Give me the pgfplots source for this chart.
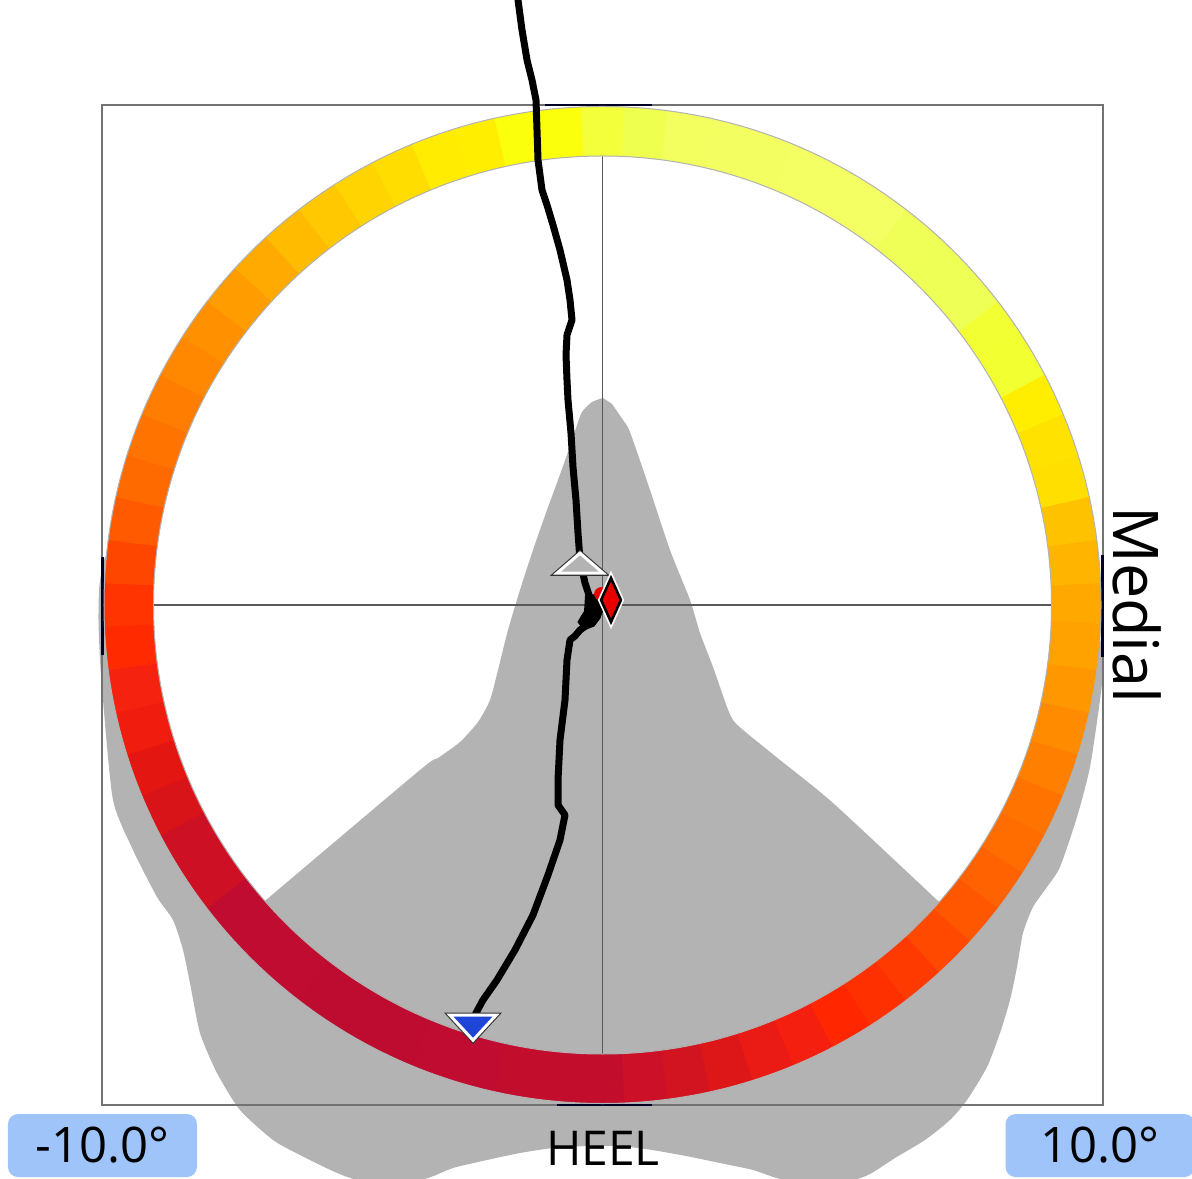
\documentclass[border=0pt]{standalone}
\usepackage{pgfplots}
\pgfplotsset{compat=1.18}
\usepackage{fontspec}
\newfontfamily\lf{Open Sans}
\definecolor{shoe}{HTML}{B3B3B3}
\definecolor{boxblue}{HTML}{9EC4FA}
\definecolor{mblue}{HTML}{1E44D8}
\definecolor{mred}{HTML}{E80000}
% ring segment colours, segment k centred at 5k degrees (0 = right, counter-clockwise)
\definecolor{r0}{HTML}{FFA800}\definecolor{r1}{HTML}{FFB400}\definecolor{r2}{HTML}{FFC200}
\definecolor{r3}{HTML}{FFDF00}\definecolor{r4}{HTML}{FFE200}\definecolor{r5}{HTML}{FFEE00}
\definecolor{r6}{HTML}{F2FF30}\definecolor{r7}{HTML}{F2FF32}\definecolor{r8}{HTML}{EEFF55}
\definecolor{r9}{HTML}{EEFF55}\definecolor{r10}{HTML}{F0FF58}\definecolor{r11}{HTML}{F3FF62}
\definecolor{r12}{HTML}{F3FF62}\definecolor{r13}{HTML}{F3FF62}\definecolor{r14}{HTML}{F3FF60}
\definecolor{r15}{HTML}{F3FF60}\definecolor{r16}{HTML}{F2FF5E}\definecolor{r17}{HTML}{EEFF50}
\definecolor{r18}{HTML}{F2FF3A}\definecolor{r19}{HTML}{FCFF0C}\definecolor{r20}{HTML}{FCFF0C}
\definecolor{r21}{HTML}{FFEE00}\definecolor{r22}{HTML}{FFEC00}\definecolor{r23}{HTML}{FFDD00}
\definecolor{r24}{HTML}{FFD400}\definecolor{r25}{HTML}{FFC800}\definecolor{r26}{HTML}{FFBB00}
\definecolor{r27}{HTML}{FFAA00}\definecolor{r28}{HTML}{FF9C00}\definecolor{r29}{HTML}{FF9000}
\definecolor{r30}{HTML}{FF8800}\definecolor{r31}{HTML}{FF7D00}\definecolor{r32}{HTML}{FF7400}
\definecolor{r33}{HTML}{FF6A00}\definecolor{r34}{HTML}{FF5A00}\definecolor{r35}{HTML}{FF4600}
\definecolor{r36}{HTML}{FF3400}\definecolor{r37}{HTML}{FF2A00}\definecolor{r38}{HTML}{F52210}
\definecolor{r39}{HTML}{F01C0E}\definecolor{r40}{HTML}{E31612}\definecolor{r41}{HTML}{D91418}
\definecolor{r42}{HTML}{CE1025}\definecolor{r43}{HTML}{CE1025}\definecolor{r44}{HTML}{C00C30}
\definecolor{r45}{HTML}{C00C30}\definecolor{r46}{HTML}{C00C30}\definecolor{r47}{HTML}{BE0B30}
\definecolor{r48}{HTML}{BE0B30}\definecolor{r49}{HTML}{BE0B30}\definecolor{r50}{HTML}{BF0C30}
\definecolor{r51}{HTML}{BF0C30}\definecolor{r52}{HTML}{C20E2C}\definecolor{r53}{HTML}{C20E2C}
\definecolor{r54}{HTML}{C20E2C}\definecolor{r55}{HTML}{CC1028}\definecolor{r56}{HTML}{D21420}
\definecolor{r57}{HTML}{DD1618}\definecolor{r58}{HTML}{EA1A14}\definecolor{r59}{HTML}{F51F10}
\definecolor{r60}{HTML}{FF2600}\definecolor{r61}{HTML}{FF3000}\definecolor{r62}{HTML}{FF3A00}
\definecolor{r63}{HTML}{FF4800}\definecolor{r64}{HTML}{FF5600}\definecolor{r65}{HTML}{FF6200}
\definecolor{r66}{HTML}{FF6C00}\definecolor{r67}{HTML}{FF7400}\definecolor{r68}{HTML}{FF8000}
\definecolor{r69}{HTML}{FF8C00}\definecolor{r70}{HTML}{FF9800}\definecolor{r71}{HTML}{FFA200}
\begin{document}
\begin{tikzpicture}
\begin{axis}[
  scale only axis, width=500pt, height=500pt,
  xmin=-10, xmax=10, ymin=-10, ymax=10,
  xtick=\empty, ytick=\empty,
  axis line style={draw=black!55, line width=1pt},
  clip=false]
% foot / heel silhouette
\addplot[fill=shoe, draw=none, smooth, tension=0.4] coordinates {
 (0.01,4.14) (-0.21,4.06) (-0.41,3.86) (-0.53,3.54) (-0.69,3.06) (-0.89,2.50)
 (-1.11,1.90) (-1.39,1.10) (-1.65,0.30) (-1.89,-0.50) (-2.09,-1.30) (-2.25,-1.90)
 (-2.49,-2.34) (-2.85,-2.74) (-3.29,-3.06) (-3.65,-3.30) (-6.73,-5.90) (-7.12,-6.23)
 (-8.18,-4.73) (-9.13,-2.45) (-9.45,0) (-9.40,1.00)
 (-9.92,1.00) (-10.06,0.40) (-10.08,-0.30) (-10.05,-1.10) (-9.99,-1.90)
 (-9.79,-3.90) (-9.39,-4.90) (-8.91,-5.84) (-8.59,-6.30) (-8.39,-6.90) (-8.25,-7.56)
 (-8.05,-8.56) (-7.71,-9.36) (-7.25,-10.10) (-6.59,-10.70) (-6.05,-11.00) (-5.35,-11.34)
 (-4.85,-11.50) (-3.65,-11.50) (-2.99,-11.26) (-2.31,-11.10) (-1.65,-10.96) (-0.99,-10.86)
 (-0.31,-10.82) (0.35,-10.82) (0.99,-10.90) (1.67,-11.02) (2.35,-11.16) (3.01,-11.30)
 (3.67,-11.50) (4.95,-11.50) (5.35,-11.38) (5.85,-11.06) (6.45,-10.70) (6.95,-10.30)
 (7.29,-9.90) (7.69,-9.24) (7.95,-8.56) (8.15,-7.90) (8.29,-7.24) (8.41,-6.56)
 (8.61,-6.04) (8.89,-5.64) (9.15,-5.24) (9.49,-4.24) (9.75,-3.24) (9.95,-1.90)
 (10.01,-1.30) (9.95,-0.70) (9.45,-0.30)
 (9.13,-2.45) (8.18,-4.73) (7.21,-6.39)
 (6.69,-5.90) (4.61,-3.96) (3.55,-3.10) (2.81,-2.50) (2.61,-2.30) (2.49,-2.04)
 (2.21,-1.24) (1.95,-0.56) (1.75,0.10) (1.35,1.10) (0.95,2.30) (0.55,3.46)
 (0.41,3.70) (0.19,4.02)
};
\draw[draw=black!55, line width=1pt] (axis cs:-10,-10) rectangle (axis cs:10,10);
% cross hair
\addplot[draw=black!65, line width=0.7pt] coordinates {(0,-10) (0,10)};
\addplot[draw=black!65, line width=0.7pt] coordinates {(-10,0) (10,0)};
% range bars on the frame
\addplot[draw=black!85!blue, line width=1.2pt] coordinates {(-1.16,10) (0.98,10)};
\addplot[draw=black!85!blue, line width=1.2pt] coordinates {(-0.92,-10) (0.98,-10)};
\addplot[draw=black!85!blue, line width=1.2pt] coordinates {(-10,0.96) (-10,-1.0)};
\addplot[draw=black!85!blue, line width=1.2pt] coordinates {(10,1.0) (10,-1.04)};
% colour ring
\pgfplotsinvokeforeach{0,...,71}{
  \draw[line width=24.75pt, color=r#1]
    (axis cs:{9.475*cos(5*#1-2.5)},{9.475*sin(5*#1-2.5)})
    arc[start angle={5*#1-2.5}, end angle={5*#1+2.9}, radius=236.875pt];
}
\draw[gray!60, line width=0.5pt] (axis cs:0,0) circle[radius=249.25pt];
\draw[gray!60, line width=0.5pt] (axis cs:0,0) circle[radius=224.5pt];
% start / end triangles
\addplot[only marks, mark=triangle*, mark size=6.67pt,
  mark options={xscale=2, draw=black!80, fill=shoe, line width=2.6pt}] coordinates {(-0.45,0.77)};
\addplot[only marks, mark=triangle*, mark size=6.67pt,
  mark options={xscale=2, draw=white, fill=shoe, line width=1.5pt}] coordinates {(-0.45,0.77)};
\addplot[only marks, mark=triangle*, mark size=8.33pt,
  mark options={rotate=180, xscale=1.6, draw=black!80, fill=mblue, line width=2.6pt}] coordinates {(-2.59,-8.37)};
\addplot[only marks, mark=triangle*, mark size=8.33pt,
  mark options={rotate=180, xscale=1.6, draw=white, fill=mblue, line width=1.5pt}] coordinates {(-2.59,-8.37)};
% red disc
\addplot[only marks, mark=*, mark size=3.2pt, mark options={draw=mred, fill=mred}] coordinates {(-0.03,0.22)};
% trajectory
\addplot[draw=black, line width=3.5pt, line join=round, line cap=round] coordinates {
 (-1.69,12.10) (-1.61,11.50) (-1.51,10.90) (-1.41,10.50) (-1.33,10.10) (-1.31,9.50)
 (-1.29,8.90) (-1.21,8.30) (-1.11,8.00) (-0.99,7.60) (-0.85,7.10) (-0.71,6.50)
 (-0.65,6.10) (-0.61,5.70) (-0.71,5.40) (-0.73,5.00) (-0.71,4.50) (-0.69,4.10)
 (-0.63,3.44) (-0.59,2.76) (-0.53,2.10) (-0.49,1.44) (-0.45,0.90) (-0.35,0.44)
 (-0.25,0.14) (-0.09,0.12) (-0.05,-0.10) (-0.15,-0.22) (-0.25,-0.36) (-0.45,-0.50)
 (-0.55,-0.62) (-0.65,-0.70) (-0.71,-1.10) (-0.75,-1.90) (-0.85,-2.70) (-0.89,-3.50)
 (-0.89,-4.00) (-0.75,-4.20) (-0.85,-4.70) (-1.09,-5.40) (-1.39,-6.20) (-1.75,-6.90)
 (-2.11,-7.50) (-2.39,-7.90) (-2.53,-8.16) (-2.59,-8.30)
};
% centre blob
\addplot[fill=black, draw=black, line width=0.5pt] coordinates {
 (-0.35,0.18) (-0.05,0.22) (0.03,-0.02) (-0.05,-0.26) (-0.17,-0.42) (-0.37,-0.50)
 (-0.49,-0.34) (-0.37,-0.14)
};
% diamond
\addplot[only marks, mark=diamond*, mark size=11pt,
  mark options={xscale=0.6, draw=white, fill=mred, line width=3pt}] coordinates {(0.17,0.10)};
\addplot[only marks, mark=diamond*, mark size=11pt,
  mark options={xscale=0.6, draw=black, fill=mred, line width=1.3pt}] coordinates {(0.17,0.10)};
% labels
\node[rotate=-90, inner sep=0pt, font=\lf\fontsize{31.5}{36}\selectfont] at (axis cs:10.70,0) {Medial};
\node[inner sep=0pt, font=\lf\fontsize{24}{28}\selectfont] at (axis cs:0.01,-10.86) {HEEL};
\node[fill=boxblue, rounded corners=5pt, minimum width=94.5pt, minimum height=31.5pt, inner sep=0pt,
  font=\lf\fontsize{24.5}{28}\selectfont] at (axis cs:-10.0,-10.81) {-10.0°};
\node[fill=boxblue, rounded corners=5pt, minimum width=94.5pt, minimum height=31.5pt, inner sep=0pt,
  font=\lf\fontsize{24.5}{28}\selectfont] at (axis cs:9.95,-10.81) {10.0°};
\coordinate (bbSW) at (axis cs:-12.05,-11.46);
\coordinate (bbNE) at (axis cs:11.79,12.10);
\end{axis}
\pgfresetboundingbox
\useasboundingbox (bbSW) rectangle (bbNE);
\end{tikzpicture}
\end{document}
